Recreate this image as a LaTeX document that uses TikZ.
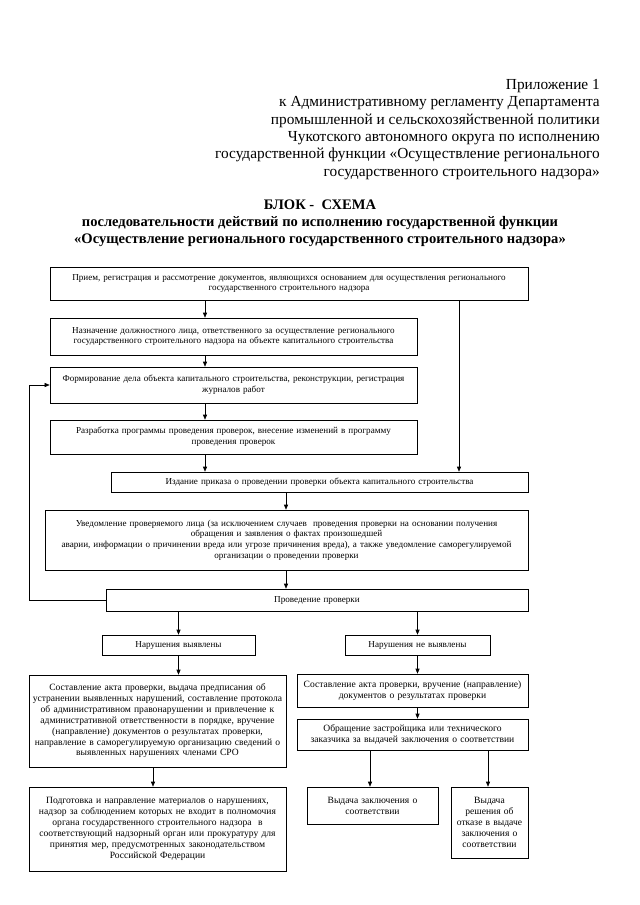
\documentclass[tikz,border=0pt]{standalone}
\usepackage{fontspec}
\setmainfont{Liberation Serif}
\usetikzlibrary{arrows.meta}

\begin{document}
\begin{tikzpicture}[x=1bp,y=-1bp,
    box/.style={draw,line width=0.6pt,align=center,inner xsep=2bp,inner ysep=1bp,
      font=\fontsize{9.15}{10.8}\selectfont},
    lowbox/.style={box,font=\fontsize{9.6}{10.9}\selectfont},
    arr/.style={-{Triangle[length=5bp,width=4bp]},line width=0.6pt}]
    \useasboundingbox (0,0) rectangle (640,905);
    % heading
    \node[anchor=north east,align=right,inner sep=0,font=\fontsize{15.4}{17.4}\selectfont]
    (pril) at (600,79) {Приложение 1\\
      к Административному регламенту Департамента\\
      промышленной и сельскохозяйственной политики\\
      Чукотского автономного округа по исполнению\\
      государственной функции «Осуществление регионального\\
      государственного строительного надзора»};
    \node[anchor=north,align=center,inner sep=0,font=\bfseries\fontsize{14.6}{17}\selectfont]
    (title) at (320,200) {БЛОК -\ \ СХЕМА\\
      последовательности действий по исполнению государственной функции\\
      «Осуществление регионального государственного строительного надзора»};
    % main column
    \node[box,text width=474bp,minimum height=33bp] (b1) at (289,283.5)
    {Прием, регистрация и рассмотрение документов, являющихся основанием для осуществления регионального\\
      государственного строительного надзора};
    \node[box,text width=363bp,minimum height=37bp] (b2) at (233.5,336.5)
    {Назначение должностного лица, ответственного за осуществление регионального\\
      государственного строительного надзора на объекте капитального строительства};
    \node[box,text width=363bp,minimum height=36bp] (b3) at (233.5,385)
    {Формирование дела объекта капитального строительства, реконструкции, регистрация\\
      журналов работ};
    \node[box,text width=363bp,minimum height=34bp] (b4) at (233.5,437)
    {Разработка программы проведения проверок, внесение изменений в программу\\
      проведения проверок};
    \node[box,text width=413bp,minimum height=20bp] (b5) at (319.5,482)
    {Издание приказа о проведении проверки объекта капитального строительства};
    \node[box,text width=479bp,minimum height=60bp] (b6) at (286.5,540)
    {Уведомление проверяемого лица (за исключением случаев\ \ проведения проверки на основании получения\\
      обращения и заявления о фактах произошедшей\\
      аварии, информации о причинении вреда или угрозе причинения вреда), а также уведомление саморегулируемой\\
      организации о проведении проверки};
    \node[box,text width=418bp,minimum height=22bp] (b7) at (317,600) {Проведение проверки};
    % left branch
    \node[box,text width=149bp,minimum height=20bp] (b8) at (178.5,645) {Нарушения выявлены};
    \node[lowbox,text width=253bp,minimum height=92bp] (b10) at (157.5,721)
    {Составление акта проверки, выдача предписания об\\
      устранении выявленных нарушений, составление протокола\\
      об административном правонарушении и привлечение к\\
      административной ответственности в порядке, вручение\\
      (направление) документов о результатах проверки,\\
      направление в саморегулируемую организацию сведений о\\
      выявленных нарушениях членами СРО};
    \node[lowbox,text width=253bp,minimum height=84bp] (b15) at (157.5,829)
    {Подготовка и направление материалов о нарушениях,\\
      надзор за соблюдением которых не входит в полномочия\\
      органа государственного строительного надзора\ \ в\\
      соответствующий надзорный орган или прокуратуру для\\
      принятия мер, предусмотренных законодательством\\
      Российской Федерации};
    % right branch
    \node[box,text width=141bp,minimum height=20bp] (b9) at (417.5,645) {Нарушения не выявлены};
    \node[lowbox,text width=227bp,minimum height=33bp] (b11) at (412.5,690.5)
    {Составление акта проверки, вручение (направление)\\
      документов о результатах проверки};
    \node[lowbox,text width=227bp,minimum height=31bp] (b12) at (412.5,734.5)
    {Обращение застройщика или технического\\
      заказчика за выдачей заключения о соответствии};
    \node[lowbox,text width=127bp,minimum height=37bp] (b13) at (372.5,805.5)
    {Выдача заключения о\\ соответствии};
    \node[lowbox,text width=73bp,minimum height=71bp] (b14) at (489.5,822.5)
    {Выдача\\ решения об\\ отказе в выдаче\\ заключения о\\ соответствии};
    % connectors
    \coordinate (ca) at (205,0);
    \coordinate (cb) at (286,0);
    \coordinate (cr) at (459,0);
    \coordinate (cl) at (29,0);
    \coordinate (cc) at (153,0);
    \coordinate (cd) at (370,0);
    \coordinate (ce) at (488,0);
    \foreach \u/\v in {b1/b2,b2/b3,b3/b4,b4/b5}
    \draw[arr] (\u.south -| ca) -- (\v.north -| ca);
    \draw[arr] (b5.south -| cb) -- (b6.north -| cb);
    \draw[arr] (b6.south -| cb) -- (b7.north -| cb);
    \draw[arr] (b1.south -| cr) -- (b5.north -| cr);
    \draw[arr] (b7.west) -- (b7.west -| cl) |- (b3.west);
    \draw[arr] (b7.south -| b8) -- (b8);
    \draw[arr] (b7.south -| b9) -- (b9);
    \draw[arr] (b8) -- (b10.north -| b8);
    \draw[arr] (b10.south -| cc) -- (b15.north -| cc);
    \draw[arr] (b9) -- (b11.north -| b9);
    \draw[arr] (b11.south -| b9) -- (b12.north -| b9);
    \draw[arr] (b12.south -| cd) -- (b13.north -| cd);
    \draw[arr] (b12.south -| ce) -- (b14.north -| ce);
\end{tikzpicture}
\end{document}
